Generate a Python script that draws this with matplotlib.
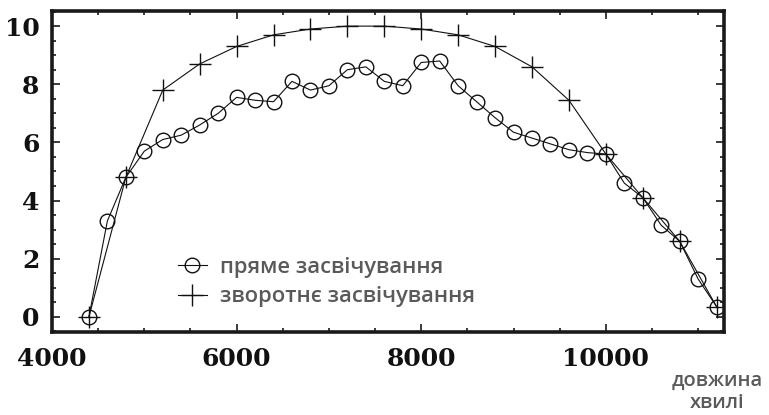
import numpy as np
import matplotlib.pyplot as plt
from matplotlib.ticker import MultipleLocator

# wavelength grid and values
wl_direct = np.arange(4400, 11201, 200)
direct = [0, 3.3, 4.8, 5.7, 6.1, 6.25, 6.6, 7.0, 7.55, 7.45, 7.4, 8.1, 7.8, 7.95,
          8.5, 8.6, 8.1, 7.95, 8.75, 8.8, 7.95, 7.4, 6.85, 6.35, 6.15, 5.95, 5.75,
          5.65, 5.6, 4.6, 4.1, 3.15, 2.6, 1.3, 0.35]

wl_reverse = np.arange(4400, 11201, 400)
reverse = [0, 4.8, 7.8, 8.7, 9.3, 9.7, 9.9, 10.0, 10.0, 9.9, 9.7, 9.3, 8.6, 7.45,
           5.6, 4.1, 2.6, 0.35]

label_direct = "пряме засвічування"
label_reverse = "зворотнє засвічування"

fig = plt.figure(figsize=(7.69, 4.15), dpi=100)
ax = fig.add_axes([52 / 769, 1 - 332 / 415, 672 / 769, 321 / 415])

ax.plot(wl_direct, direct, color="#111111", lw=0.8, marker="o", ms=10.5,
        mfc="none", mec="#111111", mew=1.0, label=label_direct)
ax.plot(wl_reverse, reverse, color="#111111", lw=0.8, marker="+", ms=16,
        mew=1.0, label=label_reverse)

ax.set_xlim(4000, 11280)
ax.set_ylim(-0.52, 10.52)
ax.xaxis.set_major_locator(MultipleLocator(2000))
ax.xaxis.set_minor_locator(MultipleLocator(500))
ax.yaxis.set_major_locator(MultipleLocator(2))
ax.yaxis.set_minor_locator(MultipleLocator(0.5))

for s in ax.spines.values():
    s.set_linewidth(2.6)
    s.set_color("#1a1a1a")

ax.tick_params(which="both", direction="in", top=True, right=True,
               color="#1a1a1a", width=1.2)
ax.tick_params(which="major", length=6)
ax.tick_params(which="minor", length=3)
ax.tick_params(axis="x", pad=11)
ax.tick_params(axis="y", pad=9)
for lab in ax.get_xticklabels() + ax.get_yticklabels():
    lab.set_family("DejaVu Serif")
    lab.set_fontsize(18)
    lab.set_fontweight("bold")
    lab.set_color("#111111")

leg = ax.legend(loc="upper left", bbox_to_anchor=(178 / 769, 1 - 257 / 415),
                bbox_transform=fig.transFigure, frameon=False, borderpad=0,
                borderaxespad=0, handlelength=1.3, handletextpad=0.6,
                labelspacing=0.38,
                prop={"family": "Open Sans", "size": 15.8, "weight": "semibold"})
for t in leg.get_texts():
    t.set_color("#5a5a5a")

fig.text(717 / 769, 1 - 392 / 415, "довжина\nхвилі", ha="center", va="center",
         family="Open Sans", fontsize=14.5, weight="semibold", color="#5a5a5a",
         linespacing=1.15)

fig.savefig("out.png", dpi=100)
